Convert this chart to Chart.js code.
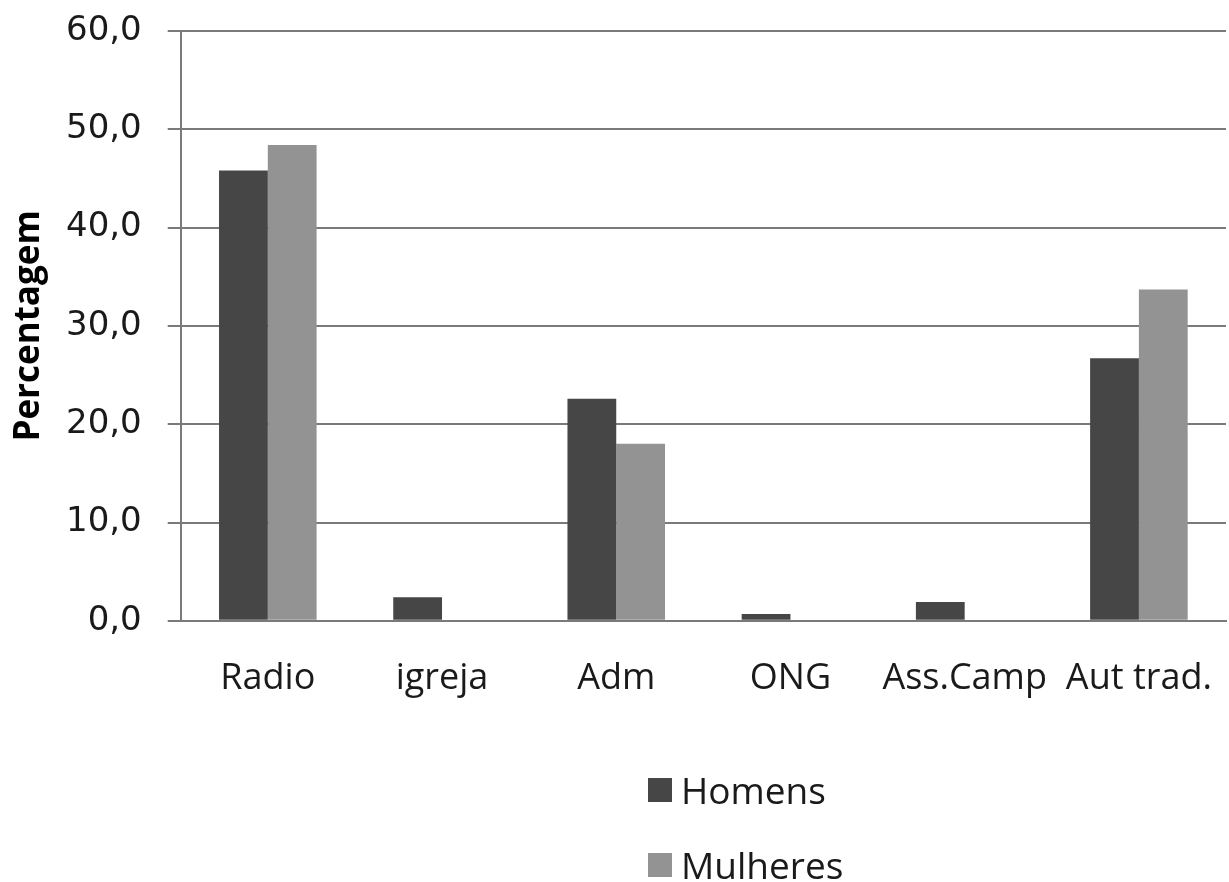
<!DOCTYPE html>
<html>
<head>
<meta charset="utf-8">
<script src="https://cdn.jsdelivr.net/npm/chart.js@4/dist/chart.umd.min.js"></script>
<style>
    body { margin: 0; background: #fff; overflow: hidden; }
    #wrap { position: relative; width: 1229px; height: 882px; }
    #legenda { position: absolute; left: 648px; top: 752px; font-family: "Open Sans", sans-serif; font-size: 37px; color: #1a1a1a; }
    #legenda div { display: flex; align-items: center; height: 75px; }
    #legenda span.box { display: inline-block; width: 24px; height: 24px; margin-right: 9px; }
</style>
</head>
<body>
<div id="wrap">
    <canvas id="grafico" width="1229" height="882"></canvas>
    <div id="legenda"></div>
</div>
<script>
const categorias = ["Radio", "igreja", "Adm", "ONG", "Ass.Camp", "Aut trad."];
const homens = [45.8, 2.4, 22.6, 0.7, 1.9, 26.7];
const mulheres = [48.4, 0, 18.0, 0, 0, 33.7];
const rotulosY = ["0,0", "10,0", "20,0", "30,0", "40,0", "50,0", "60,0"];

const ctx = document.getElementById("grafico");
const grafico = new Chart(ctx, {
    type: "bar",
    data: {
        labels: categorias,
        datasets: [
            { label: "Homens", data: homens, backgroundColor: "#464646" },
            { label: "Mulheres", data: mulheres, backgroundColor: "#939393" }
        ]
    },
    options: {
        responsive: false,
        animation: false,
        categoryPercentage: 0.56,
        barPercentage: 1.0,
        layout: { padding: { top: 31, right: 3, bottom: 176, left: 8 } },
        plugins: {
            legend: { display: false },
            tooltip: { enabled: false }
        },
        scales: {
            x: {
                grid: { display: false, drawTicks: true, tickLength: 30 },
                border: { color: "#7a7a7a", width: 2 },
                ticks: {
                    color: "#1a1a1a",
                    padding: 6,
                    maxRotation: 0,
                    autoSkip: false,
                    font: { family: "Open Sans", size: 36 }
                }
            },
            y: {
                min: 0,
                max: 60,
                // o rótulo "60,0" não deve empurrar a área do gráfico para baixo
                afterFit: s => { s.paddingTop = 0; },
                ticks: {
                    stepSize: 10,
                    color: "#1a1a1a",
                    padding: 26,
                    font: { family: "DejaVu Sans", size: 34 },
                    callback: (v, i) => rotulosY[i]
                },
                grid: { color: "#7a7a7a", lineWidth: 2, tickLength: 13 },
                border: { color: "#7a7a7a", width: 2 },
                title: {
                    display: true,
                    text: "Percentagem",
                    color: "#000",
                    padding: { top: 0, bottom: -10 },
                    font: { family: "Open Sans", size: 35, weight: "bold" }
                }
            }
        }
    }
});

const legenda = document.getElementById("legenda");
grafico.data.datasets.forEach(ds => {
    const linha = document.createElement("div");
    linha.innerHTML = '<span class="box" style="background:' + ds.backgroundColor + '"></span>' + ds.label;
    legenda.appendChild(linha);
});
</script>
</body>
</html>
